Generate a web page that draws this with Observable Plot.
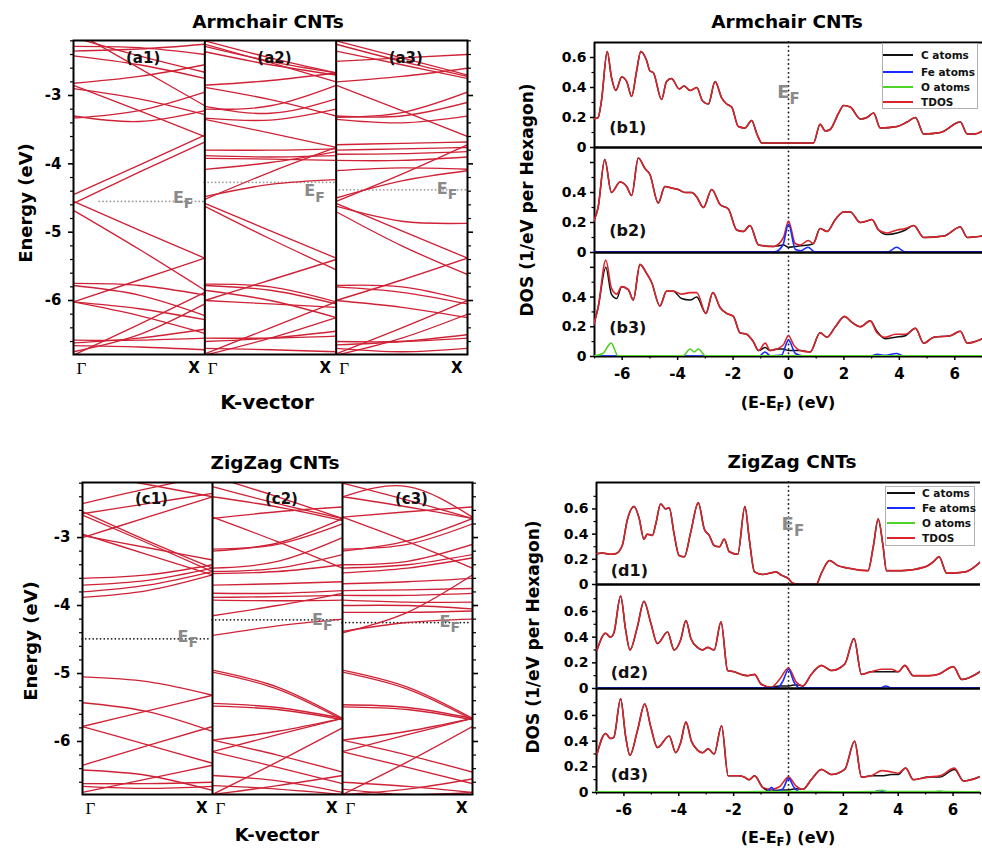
<!DOCTYPE html>
<html><head><meta charset="utf-8">
<script src="https://cdn.jsdelivr.net/npm/d3@7"></script>
<script src="https://cdn.jsdelivr.net/npm/@observablehq/plot@0.6"></script>
<style>
html,body{margin:0;padding:0;background:#fff;}
#root{position:relative;width:982px;height:851px;overflow:hidden;font-family:"DejaVu Sans",sans-serif;font-weight:bold;color:#000;}
.lbl{position:absolute;white-space:nowrap;font-weight:bold;line-height:1;}
.lbl sub{font-size:0.72em;vertical-align:-0.3em;line-height:0;}
</style></head><body><div id="root"></div><script>
// ---------------- DATA ----------------
const kPoints = [0, 0.5, 1];          // Γ, midpoint, X (fraction of the k path)
const kLabels = ["Γ", "X"];
const panelsA = ["(a1)", "(a2)", "(a3)"];
const panelsC = ["(c1)", "(c2)", "(c3)"];
const panelsB = ["(b1)", "(b2)", "(b3)"];
const panelsD = ["(d1)", "(d2)", "(d3)"];
const energyTicks = [-6, -5, -4, -3];
const dosTicksX = [-6, -4, -2, 0, 2, 4, 6];
const legendNames = ["C atoms", "Fe atoms", "O atoms", "TDOS"];
const efA = [-4.55, -4.27, -4.38];
const efC = [-4.49, -4.21, -4.25];

// band energies (eV) at kPoints
const bandsA1 = [[-2.15,-2.42,-2.66],[-2.28,-2.30,-2.40],[-2.35,-2.32,-2.25],[-2.05,-2.60,-3.15],[-2.42,-2.55,-2.75],
 [-2.85,-3.22,-3.60],[-2.82,-2.72,-2.55],[-3.30,-3.38,-3.22],[-3.33,-3.22,-2.95],[-2.90,-3.05,-3.28],
 [-4.45,-4.02,-3.58],[-4.58,-4.12,-3.68],[-4.55,-4.97,-5.38],[-4.68,-5.25,-5.85],[-6.02,-5.70,-5.38],
 [-5.75,-5.78,-5.92],[-5.78,-5.92,-6.22],[-6.02,-6.12,-6.28],[-6.80,-6.35,-5.88],[-6.75,-6.50,-6.05],
 [-6.58,-6.58,-6.55],[-6.62,-6.55,-6.42],[-6.66,-6.68,-6.72],[-6.02,-6.22,-6.48]];
const bandsA2 = [[-2.20,-2.45,-2.67],[-2.28,-2.50,-2.67],[-2.36,-2.55,-2.70],[-2.25,-2.52,-2.80],[-2.85,-2.78,-2.67],
 [-2.88,-3.06,-3.30],[-3.16,-3.26,-3.05],[-3.20,-3.15,-2.85],[-3.33,-3.36,-3.20],[-3.35,-3.55,-3.76],
 [-3.80,-3.80,-3.78],[-3.88,-3.90,-3.88],[-3.92,-3.93,-3.95],[-4.08,-3.98,-3.82],[-4.52,-4.12,-3.76],
 [-4.48,-4.30,-4.23],[-4.58,-4.98,-5.38],[-4.62,-5.10,-5.55],[-6.00,-5.70,-5.40],[-5.76,-5.80,-6.02],
 [-5.78,-5.85,-6.05],[-5.85,-6.00,-6.25],[-6.00,-6.05,-6.10],[-6.78,-6.40,-6.02],[-6.80,-6.55,-6.25],
 [-6.55,-6.55,-6.52],[-6.60,-6.55,-6.45],[-6.70,-6.72,-6.75]];
const bandsA3 = [[-2.20,-2.45,-2.70],[-2.25,-2.50,-2.72],[-2.35,-2.55,-2.75],[-2.50,-2.45,-2.40],[-2.80,-2.72,-2.60],
 [-2.85,-3.22,-3.60],[-3.30,-3.30,-3.10],[-3.32,-3.25,-2.95],[-3.35,-3.40,-3.30],[-3.72,-3.70,-3.68],
 [-3.80,-3.78,-3.76],[-3.86,-3.85,-3.82],[-3.95,-3.95,-3.90],[-4.10,-4.06,-4.08],[-4.55,-4.15,-3.72],
 [-4.50,-4.25,-4.10],[-4.58,-4.98,-5.38],[-4.70,-5.20,-5.62],[-4.62,-4.84,-4.87],[-6.00,-5.70,-5.38],
 [-5.78,-5.80,-6.00],[-5.80,-5.88,-6.05],[-6.00,-6.10,-6.25],[-6.78,-6.40,-6.00],[-6.80,-6.55,-6.20],
 [-6.60,-6.60,-6.55],[-6.65,-6.60,-6.50],[-6.70,-6.75,-6.70]];
const bandsC1 = [[-2.50,-2.28,-2.08],[-2.65,-2.50,-2.35],[-2.05,-2.22,-2.40],[-2.62,-3.05,-3.45],[-2.67,-3.08,-3.50],
 [-2.95,-3.25,-3.55],[-3.00,-2.70,-2.40],[-2.97,-3.15,-3.33],[-3.60,-3.55,-3.40],[-3.70,-3.63,-3.45],
 [-3.80,-3.70,-3.50],[-3.88,-3.78,-3.55],[-5.05,-5.12,-5.32],[-5.43,-5.56,-5.85],[-5.78,-5.55,-5.32],
 [-5.78,-6.05,-6.32],[-6.35,-6.06,-5.78],[-6.42,-6.50,-6.72],[-6.75,-6.55,-6.35],[-6.62,-6.62,-6.60],
 [-6.66,-6.69,-6.66]];
const bandsC2 = [[-2.25,-2.50,-2.72],[-2.40,-2.55,-2.75],[-2.10,-2.40,-2.72],[-2.72,-2.62,-2.55],[-3.17,-3.10,-2.80],
 [-3.20,-3.08,-2.72],[-2.70,-3.06,-3.45],[-3.45,-3.35,-3.00],[-3.50,-3.45,-3.25],[-3.53,-3.50,-3.40],
 [-3.70,-3.68,-3.65],[-3.82,-3.82,-3.78],[-3.88,-3.87,-3.85],[-3.92,-3.93,-3.92],[-4.15,-4.00,-3.82],
 [-4.44,-4.30,-4.20],[-4.95,-5.20,-5.66],[-4.98,-5.23,-5.68],[-5.44,-5.50,-5.66],[-5.48,-5.53,-5.68],
 [-5.98,-5.85,-5.66],[-6.15,-5.90,-5.66],[-5.98,-6.20,-6.45],[-6.15,-6.38,-6.62],[-6.78,-6.30,-5.80],
 [-6.50,-6.58,-6.75],[-6.65,-6.70,-6.78],[-6.78,-6.65,-6.50]];
const bandsC3 = [[-2.20,-2.45,-2.72],[-2.40,-2.55,-2.72],[-2.40,-2.25,-2.70],[-2.70,-2.62,-2.55],[-3.17,-3.10,-2.80],
 [-3.20,-3.05,-2.72],[-2.70,-3.06,-3.45],[-3.40,-3.35,-3.10],[-3.45,-3.40,-3.25],[-3.52,-3.45,-3.30],
 [-3.68,-3.65,-3.60],[-3.78,-3.77,-3.75],[-3.85,-3.85,-3.82],[-3.92,-3.95,-3.95],[-4.00,-4.00,-4.05],
 [-4.10,-4.10,-4.08],[-4.40,-4.10,-3.55],[-4.38,-4.25,-4.20],[-4.95,-5.20,-5.66],[-4.98,-5.23,-5.68],
 [-5.46,-5.50,-5.66],[-5.49,-5.53,-5.68],[-5.98,-5.85,-5.66],[-6.15,-5.90,-5.66],[-5.98,-6.20,-6.45],
 [-6.15,-6.38,-6.62],[-6.78,-6.30,-5.78],[-6.60,-6.66,-6.75],[-6.70,-6.78,-6.75],[-6.78,-6.70,-6.55]];

// DOS (1/eV per hexagon) vs E-EF (eV)
const b1E = [-7.05,-6.87,-6.75,-6.54,-6.39,-6.23,-6.02,-5.84,-5.66,-5.48,-5.33,-5.12,-5.0,-4.88,-4.58,-4.4,-4.22,-3.94,-3.77,-3.55,-3.31,-3.1,-2.89,-2.65,-2.41,-2.23,-2.05,-1.81,-1.57,-1.33,-1.14,-0.96,0.9,1.14,1.33,1.5,1.81,1.99,2.23,2.59,2.83,3.07,3.31,3.92,4.28,4.58,4.88,5.48,6.2,6.45,6.7,7.0];
const b1T = [0.19,0.2,0.31,0.64,0.47,0.38,0.47,0.44,0.34,0.51,0.64,0.58,0.51,0.5,0.32,0.44,0.46,0.39,0.41,0.38,0.40,0.31,0.29,0.44,0.33,0.29,0.27,0.14,0.13,0.18,0.09,0.03,0.03,0.155,0.11,0.12,0.23,0.28,0.27,0.19,0.2,0.23,0.13,0.14,0.17,0.2,0.09,0.1,0.17,0.09,0.09,0.11];
const b1C = [0.19,0.2,0.31,0.64,0.47,0.38,0.47,0.44,0.34,0.51,0.64,0.58,0.51,0.5,0.32,0.44,0.46,0.39,0.41,0.38,0.40,0.31,0.29,0.44,0.33,0.29,0.27,0.14,0.13,0.18,0.09,0.03,0.03,0.155,0.11,0.12,0.23,0.28,0.27,0.19,0.2,0.23,0.13,0.14,0.17,0.2,0.09,0.1,0.17,0.09,0.09,0.11];

const b2E = [-7.05,-6.87,-6.63,-6.39,-6.08,-5.84,-5.66,-5.42,-5.18,-5.0,-4.7,-4.46,-4.22,-3.98,-3.73,-3.49,-3.31,-3.07,-2.77,-2.47,-2.17,-1.87,-1.63,-1.39,-1.08,-0.54,-0.18,0,0.24,0.42,0.72,0.9,1.14,1.39,1.69,1.99,2.23,2.59,2.83,3.01,3.25,3.55,3.92,4.22,4.52,4.88,5.6,6.2,6.45,7.0];
const b2T = [0.2,0.3,0.62,0.4,0.47,0.44,0.38,0.63,0.56,0.52,0.33,0.44,0.43,0.42,0.40,0.40,0.37,0.3,0.42,0.32,0.29,0.15,0.14,0.18,0.05,0.04,0.1,0.21,0.06,0.05,0.08,0.06,0.16,0.14,0.22,0.27,0.27,0.2,0.21,0.22,0.15,0.13,0.15,0.16,0.18,0.1,0.11,0.17,0.1,0.11];
const b2C = [0.2,0.3,0.62,0.4,0.47,0.44,0.38,0.63,0.56,0.52,0.33,0.44,0.43,0.42,0.40,0.40,0.37,0.3,0.42,0.32,0.29,0.15,0.14,0.18,0.05,0.04,0.05,0.035,0.04,0.045,0.05,0.06,0.16,0.14,0.22,0.27,0.27,0.2,0.21,0.22,0.15,0.12,0.13,0.15,0.18,0.1,0.11,0.17,0.1,0.11];
const b2FeE = [-7,-0.5,-0.2,0,0.25,0.45,0.7,0.95,3.6,3.9,4.2,7];
const b2Fe = [0.005,0.005,0.05,0.19,0.02,0.012,0.035,0.005,0.005,0.035,0.005,0.005];

const b3E = [-7.05,-6.87,-6.59,-6.39,-6.2,-6.02,-5.78,-5.6,-5.36,-5.12,-4.94,-4.64,-4.4,-4.16,-3.86,-3.55,-3.31,-2.98,-2.73,-2.47,-2.23,-1.99,-1.75,-1.51,-1.27,-1.08,-0.84,-0.66,-0.42,-0.18,0,0.18,0.42,0.78,1.14,1.39,1.69,2.02,2.29,2.59,2.95,3.19,3.49,3.86,4.22,4.58,4.88,5.24,5.84,6.2,6.45,7.0];
const b3T = [0.2,0.33,0.65,0.46,0.42,0.47,0.45,0.38,0.62,0.56,0.5,0.34,0.44,0.44,0.42,0.43,0.43,0.29,0.43,0.33,0.29,0.27,0.16,0.15,0.1,0.04,0.09,0.04,0.05,0.08,0.14,0.08,0.04,0.03,0.16,0.13,0.2,0.27,0.23,0.2,0.24,0.16,0.13,0.15,0.15,0.19,0.09,0.13,0.14,0.17,0.09,0.12];
const b3C = [0.2,0.33,0.6,0.42,0.39,0.47,0.45,0.38,0.62,0.56,0.5,0.34,0.44,0.44,0.39,0.38,0.4,0.29,0.43,0.33,0.29,0.27,0.16,0.15,0.1,0.04,0.06,0.04,0.05,0.05,0.04,0.04,0.04,0.03,0.16,0.13,0.2,0.27,0.23,0.2,0.24,0.17,0.12,0.13,0.14,0.19,0.09,0.13,0.14,0.17,0.09,0.12];
const b3FeE = [-7,-1.05,-0.85,-0.65,-0.25,0,0.25,0.5,3.0,3.2,3.45,3.9,4.15,7];
const b3Fe = [0.003,0.003,0.03,0.005,0.01,0.11,0.02,0.005,0.005,0.015,0.008,0.02,0.004,0.003];
const b3OE = [-7,-6.7,-6.4,-6.15,-3.8,-3.55,-3.4,-3.25,-3.0,7];
const b3O = [0.005,0.02,0.09,0.005,0.005,0.05,0.03,0.05,0.005,0.005];

const d1E = [-6.98,-6.79,-6.49,-6.3,-6.06,-5.88,-5.63,-5.45,-5.27,-5.15,-4.96,-4.84,-4.66,-4.48,-4.35,-4.17,-3.99,-3.8,-3.56,-3.29,-3.07,-2.89,-2.71,-2.52,-2.34,-2.16,-1.85,-1.59,-1.43,-1.24,-0.94,-0.7,-0.45,-0.27,-0.02,0.16,0.46,1.01,1.2,1.5,1.8,2.17,2.9,3.09,3.27,3.45,3.57,4.12,4.98,5.28,5.49,5.77,6.44,7.05];
const d1T = [0.245,0.25,0.24,0.245,0.31,0.51,0.62,0.53,0.36,0.4,0.39,0.48,0.64,0.6,0.61,0.4,0.23,0.22,0.42,0.65,0.44,0.39,0.31,0.3,0.36,0.26,0.24,0.62,0.36,0.1,0.08,0.09,0.1,0.075,0.05,0.01,0.0,0.0,0.09,0.19,0.15,0.13,0.11,0.3,0.52,0.3,0.11,0.11,0.14,0.18,0.22,0.09,0.1,0.19];
const d1C = [0.245,0.25,0.24,0.245,0.31,0.51,0.62,0.53,0.36,0.4,0.39,0.48,0.64,0.6,0.61,0.4,0.23,0.22,0.42,0.65,0.44,0.39,0.31,0.3,0.36,0.26,0.24,0.62,0.36,0.1,0.08,0.09,0.1,0.075,0.05,0.01,0.0,0.0,0.09,0.19,0.15,0.13,0.11,0.3,0.52,0.3,0.11,0.11,0.14,0.18,0.22,0.09,0.1,0.19];

const d2E = [-6.98,-6.67,-6.49,-6.37,-6.12,-5.94,-5.78,-5.51,-5.27,-5.02,-4.78,-4.41,-4.17,-3.93,-3.74,-3.56,-3.32,-3.13,-2.95,-2.71,-2.46,-2.22,-1.98,-1.73,-1.49,-1.24,-1.0,-0.63,-0.33,0,0.28,0.52,0.83,1.2,1.56,2.05,2.39,2.66,3.02,3.39,3.76,4.0,4.24,4.55,5.1,5.46,6.01,6.32,7.05];
const d2T = [0.3,0.43,0.4,0.43,0.72,0.46,0.3,0.48,0.68,0.51,0.35,0.44,0.3,0.38,0.53,0.39,0.32,0.3,0.32,0.3,0.52,0.14,0.13,0.11,0.1,0.11,0.035,0.01,0.07,0.16,0.05,0.02,0.11,0.18,0.14,0.19,0.39,0.11,0.13,0.15,0.15,0.13,0.18,0.1,0.1,0.11,0.17,0.07,0.14];
const d2C = [0.3,0.43,0.4,0.43,0.72,0.46,0.3,0.48,0.68,0.51,0.35,0.44,0.3,0.38,0.53,0.39,0.32,0.3,0.32,0.3,0.52,0.14,0.13,0.11,0.1,0.11,0.035,0.01,0.02,0.02,0.03,0.02,0.11,0.18,0.14,0.19,0.39,0.11,0.13,0.13,0.13,0.13,0.18,0.1,0.1,0.11,0.17,0.07,0.14];
const d2FeE = [-7,-0.4,-0.2,0,0.2,0.4,3.35,3.55,3.75,7];
const d2Fe = [0.005,0.005,0.06,0.15,0.05,0.005,0.005,0.02,0.005,0.005];

const d3E = [-6.98,-6.67,-6.49,-6.37,-6.12,-5.94,-5.78,-5.51,-5.24,-5.02,-4.78,-4.35,-4.11,-3.93,-3.74,-3.54,-3.32,-3.13,-2.93,-2.71,-2.44,-2.2,-1.85,-1.61,-1.43,-1.24,-0.94,-0.63,-0.33,0,0.28,0.52,0.83,1.2,1.56,2.05,2.41,2.66,3.02,3.39,3.76,4.0,4.27,4.55,5.1,5.52,6.05,6.38,7.05];
const d3T = [0.3,0.46,0.42,0.43,0.73,0.44,0.29,0.48,0.69,0.51,0.35,0.44,0.31,0.39,0.55,0.4,0.33,0.31,0.34,0.3,0.52,0.13,0.13,0.12,0.1,0.13,0.04,0.025,0.045,0.12,0.05,0.025,0.1,0.18,0.14,0.18,0.4,0.12,0.13,0.17,0.16,0.15,0.19,0.1,0.12,0.13,0.19,0.09,0.13];
const d3C = [0.3,0.46,0.42,0.43,0.73,0.44,0.29,0.48,0.69,0.51,0.35,0.44,0.31,0.39,0.55,0.4,0.33,0.31,0.34,0.3,0.52,0.13,0.13,0.12,0.1,0.13,0.04,0.01,0.02,0.02,0.03,0.025,0.1,0.18,0.14,0.18,0.4,0.12,0.13,0.13,0.14,0.14,0.19,0.1,0.12,0.12,0.18,0.09,0.13];
const d3FeE = [-7,-0.8,-0.62,-0.45,-0.2,0,0.2,0.4,3.1,3.3,3.5,7];
const d3Fe = [0.003,0.003,0.04,0.005,0.03,0.11,0.04,0.005,0.005,0.015,0.004,0.003];
const d3OE = [-7,-2,0,2,3.2,3.4,3.6,5.3,5.5,5.7,7];
const d3O = [0.006,0.006,0.008,0.006,0.008,0.018,0.008,0.008,0.012,0.008,0.006];

// ---------------- DRAWING ----------------
const root = document.getElementById("root");
const FONT = "DejaVu Sans, sans-serif";
const bandColor = "#cf2236";
const col = {C: "#111111", Fe: "#1a2bff", O: "#4fd12a", T: "#d9242c"};
const legendColors = [col.C, col.Fe, col.O, col.T];
const baseStyle = {background: "transparent", overflow: "visible", fontFamily: FONT, fontWeight: "bold", fontSize: "14px", color: "#000"};

function place(el, left, top) {
  el.style.position = "absolute";
  el.style.left = left + "px";
  el.style.top = top + "px";
  el.style.maxWidth = "none";
  root.appendChild(el);
}
function addLabel(html, x, y, size, rotate, family, weight) {
  const d = document.createElement("div");
  d.className = "lbl";
  d.innerHTML = html;
  d.style.left = x + "px";
  d.style.top = y + "px";
  d.style.fontSize = size + "px";
  if (family) d.style.fontFamily = family;
  if (weight) d.style.fontWeight = weight;
  d.style.transform = "translate(-50%,-50%)" + (rotate ? " rotate(-90deg)" : "");
  root.appendChild(d);
}

function bandChart(c) {
  const mL = 50, mR = 12, mT = 2, mB = 28;
  const W = c.right - c.left, H = c.bottom - c.top;
  const [y0, y1] = c.yDomain;
  const pxPerE = H / (y1 - y0);
  const rows = [];
  c.bands.forEach((set, i) => set.forEach((b, j) => b.forEach((e, m) =>
    rows.push({x: i + kPoints[m], y: e, id: i * 100 + j}))));
  const efRows = c.ef.map((e, i) => ({x1: i + c.efStart[i], x2: i + 0.99, y: e,
    xl: i + c.efLabelK[i], yl: e - c.efDy[i] / pxPerE}));
  const nameRows = c.names.map((t, i) => ({x: i + 0.53, y: c.nameE, t}));
  const gRows = [0, 1, 2].map(i => ({x: i, y: y0, t: kLabels[0]}));
  const xRows = [0, 1, 2].map(i => ({x: i + 1, y: y0, t: kLabels[1]}));
  const minor = d3.range(-68, -21, 2).map(v => v / 10).filter(v => v >= y0 && v <= y1 && !energyTicks.includes(v));
  const svg = Plot.plot({
    width: W + mL + mR, height: H + mT + mB,
    marginLeft: mL, marginRight: mR, marginTop: mT, marginBottom: mB,
    x: {domain: [0, 3], axis: null},
    y: {domain: c.yDomain, axis: null},
    style: baseStyle,
    marks: [
      Plot.ruleY(efRows, {x1: "x1", x2: "x2", y: "y", stroke: c.efColor, strokeWidth: 1.7, strokeDasharray: "0.1,3.6", strokeLinecap: "round"}),
      Plot.line(rows, {x: "x", y: "y", z: "id", curve: "natural", stroke: bandColor, strokeWidth: 1.35, clip: true}),
      Plot.text(efRows, {x: "xl", y: "yl", text: () => "E", textAnchor: "end", fill: "#8a8a8a", fontSize: 16, fontWeight: "bold"}),
      Plot.text(efRows, {x: "xl", y: "yl", text: () => "F", textAnchor: "start", dy: 6, fill: "#8a8a8a", fontSize: 14, fontWeight: "bold"}),
      Plot.text(nameRows, {x: "x", y: "y", text: "t", fontSize: 15, fontWeight: "bold", fill: "#111"}),
      Plot.ruleX([1, 2], {stroke: "#000", strokeWidth: 2}),
      Plot.frame({stroke: "#000", strokeWidth: 2}),
      Plot.axisY({ticks: energyTicks, tickSize: 5, tickPadding: 7, fontSize: 15, fontWeight: "bold", tickFormat: d => String(d), strokeWidth: 1.6, label: null}),
      Plot.axisY({ticks: minor, tickSize: 3, tickFormat: () => "", strokeWidth: 1.2, label: null}),
      Plot.axisY({anchor: "right", ticks: energyTicks, tickSize: 5, tickFormat: () => "", strokeWidth: 1.6, label: null}),
      Plot.axisY({anchor: "right", ticks: minor, tickSize: 3, tickFormat: () => "", strokeWidth: 1.2, label: null}),
      Plot.text(gRows, {x: "x", y: "y", text: "t", dx: 3, dy: 14, textAnchor: "start", fontFamily: "Liberation Serif, serif", fontWeight: "normal", fontSize: 17}),
      Plot.text(xRows, {x: "x", y: "y", text: "t", dx: -5, dy: 14, textAnchor: "end", fontSize: 15, fontWeight: "bold"})
    ]
  });
  place(svg, c.left - mL, c.top - mT);
}

function dosPanel(c) {
  const mL = 45, mR = 0, mT = 2, mB = c.xAxis ? 34 : 2;
  const W = c.right - c.left, H = c.bottom - c.top;
  const rowsOf = (E, V) => E.map((e, i) => ({x: e, y: V[i]}));
  const minorX = [-7, -5, -3, -1, 1, 3, 5, 7];
  const fmt = d => d === 0 ? "0" : d3.format(".1f")(d);
  const marks = [
    Plot.ruleY(c.yDomain, {stroke: "#000", strokeWidth: 2}),
    Plot.ruleX([-7], {stroke: "#000", strokeWidth: 2}),
    Plot.ruleX([0], {stroke: "#1a1a1a", strokeWidth: 1.8, strokeDasharray: "0.1,4.3", strokeLinecap: "round"}),
    Plot.line(rowsOf(c.E, c.C), {x: "x", y: "y", stroke: col.C, strokeWidth: 1.5, curve: "monotone-x", clip: true}),
    Plot.line(rowsOf(c.E, c.T), {x: "x", y: "y", stroke: col.T, strokeWidth: 1.6, curve: "monotone-x", clip: true})
  ];
  if (c.FeE) marks.push(Plot.line(rowsOf(c.FeE, c.Fe), {x: "x", y: "y", stroke: col.Fe, strokeWidth: 1.6, curve: "monotone-x", clip: true}));
  if (c.OE) marks.push(Plot.line(rowsOf(c.OE, c.O), {x: "x", y: "y", stroke: col.O, strokeWidth: 1.6, curve: "monotone-x", clip: true}));
  marks.push(Plot.text([{x: -5.8, y: c.nameV, t: c.name}], {x: "x", y: "y", text: "t", fontSize: 16, fontWeight: "bold", fill: "#111"}));
  if (c.efLabel) {
    const r = [{x: c.efLabel[0], y: c.efLabel[1]}];
    marks.push(Plot.text(r, {x: "x", y: "y", text: () => "E", textAnchor: "end", dx: 1, fill: "#8a8a8a", fontSize: 18, fontWeight: "bold"}));
    marks.push(Plot.text(r, {x: "x", y: "y", text: () => "F", textAnchor: "start", dx: 1, dy: 7, fill: "#8a8a8a", fontSize: 15, fontWeight: "bold"}));
  }
  marks.push(Plot.axisY({ticks: c.yLabeled, tickSize: 4, tickPadding: 4, fontSize: 14, fontWeight: "bold", tickFormat: fmt, strokeWidth: 1.5, label: null}));
  if (c.yExtra.length) marks.push(Plot.axisY({ticks: c.yExtra, tickSize: 4, tickFormat: () => "", strokeWidth: 1.5, label: null}));
  marks.push(Plot.axisY({ticks: c.yMinor, tickSize: 2.5, tickFormat: () => "", strokeWidth: 1.2, label: null}));
  if (c.xAxis) {
    marks.push(Plot.axisX({ticks: dosTicksX, tickSize: 4, tickPadding: 8, fontSize: 15, fontWeight: "bold", tickFormat: d => String(d), strokeWidth: 1.5, label: null}));
    marks.push(Plot.axisX({ticks: minorX, tickSize: 2.5, tickFormat: () => "", strokeWidth: 1.2, label: null}));
  }
  const svg = Plot.plot({
    width: W + mL + mR, height: H + mT + mB,
    marginLeft: mL, marginRight: mR, marginTop: mT, marginBottom: mB,
    x: {domain: [-7, 7], axis: null},
    y: {domain: c.yDomain, axis: null},
    style: baseStyle,
    marks
  });
  place(svg, c.left - mL, c.top - mT);
}

function legend(x, y, w, h, rowsY, lx1, lx2, tx) {
  const box = document.createElement("div");
  box.style.cssText = `position:absolute;left:${x}px;top:${y}px;width:${w}px;height:${h}px;border:1px solid #b0b0b0;background:#fff;box-sizing:border-box;`;
  root.appendChild(box);
  legendNames.forEach((n, i) => {
    const l = document.createElement("div");
    l.style.cssText = `position:absolute;left:${lx1}px;top:${rowsY[i] - 1}px;width:${lx2 - lx1}px;height:2px;background:${legendColors[i]};`;
    root.appendChild(l);
    const t = document.createElement("div");
    t.className = "lbl";
    t.textContent = n;
    t.style.cssText += `left:${tx}px;top:${rowsY[i]}px;font-size:10.5px;transform:translateY(-50%);color:#111;`;
    root.appendChild(t);
  });
}

// Band structures
bandChart({left: 73, right: 467, top: 40, bottom: 354, yDomain: [-6.79, -2.195],
  bands: [bandsA1, bandsA2, bandsA3], ef: efA, efStart: [0.2, 0, 0], efColor: "#9a9a9a",
  efLabelK: [0.84, 0.84, 0.85], efDy: [-4, 9, -1], names: panelsA, nameE: -2.46});
bandChart({left: 82, right: 472, top: 482, bottom: 794, yDomain: [-6.78, -2.19],
  bands: [bandsC1, bandsC2, bandsC3], ef: efC, efStart: [0, 0, 0], efColor: "#222",
  efLabelK: [0.815, 0.85, 0.83], efDy: [-2, 0, -1], names: panelsC, nameE: -2.43});

// DOS panels (armchair)
const bDom = [0, 0.7];
dosPanel({left: 594, right: 982, top: 42, bottom: 147, yDomain: bDom, E: b1E, T: b1T, C: b1C,
  name: panelsB[0], nameV: 0.133, efLabel: [0, 0.37], yLabeled: [0, 0.2, 0.4, 0.6], yExtra: [], yMinor: [0.1, 0.3, 0.5]});
dosPanel({left: 594, right: 982, top: 147, bottom: 252, yDomain: bDom, E: b2E, T: b2T, C: b2C, FeE: b2FeE, Fe: b2Fe,
  name: panelsB[1], nameV: 0.147, yLabeled: [0, 0.2, 0.4], yExtra: [0.6], yMinor: [0.1, 0.3, 0.5]});
dosPanel({left: 594, right: 982, top: 252, bottom: 356, yDomain: bDom, E: b3E, T: b3T, C: b3C, FeE: b3FeE, Fe: b3Fe, OE: b3OE, O: b3O,
  name: panelsB[2], nameV: 0.193, yLabeled: [0, 0.2, 0.4], yExtra: [0.6], yMinor: [0.1, 0.3, 0.5], xAxis: true});

// DOS panels (zigzag)
const dDom = [0, 0.81];
dosPanel({left: 595.6, right: 979.6, top: 482, bottom: 584, yDomain: dDom, E: d1E, T: d1T, C: d1C,
  name: panelsD[0], nameV: 0.11, efLabel: [0.16, 0.48], yLabeled: [0, 0.2, 0.4, 0.6], yExtra: [], yMinor: [0.1, 0.3, 0.5, 0.7]});
dosPanel({left: 595.6, right: 979.6, top: 584, bottom: 688, yDomain: dDom, E: d2E, T: d2T, C: d2C, FeE: d2FeE, Fe: d2Fe,
  name: panelsD[1], nameV: 0.118, yLabeled: [0, 0.2, 0.4, 0.6], yExtra: [], yMinor: [0.1, 0.3, 0.5, 0.7]});
dosPanel({left: 595.6, right: 979.6, top: 688, bottom: 792, yDomain: dDom, E: d3E, T: d3T, C: d3C, FeE: d3FeE, Fe: d3Fe, OE: d3OE, O: d3O,
  name: panelsD[2], nameV: 0.134, yLabeled: [0, 0.2, 0.4, 0.6], yExtra: [], yMinor: [0.1, 0.3, 0.5, 0.7], xAxis: true});

// Legends
legend(882, 43, 96, 66, [55, 72, 87, 102], 883, 913, 921);
legend(885, 486, 90, 60, [493, 508, 523, 538], 887, 915, 922);

// Titles and axis labels
addLabel("Armchair CNTs", 268, 22, 18.5);
addLabel("Armchair CNTs", 787, 22, 18.5);
addLabel("ZigZag CNTs", 275, 463, 18.5);
addLabel("ZigZag CNTs", 792, 462, 18.5);
addLabel("Energy (eV)", 26, 203, 18, true);
addLabel("Energy (eV)", 31, 641, 18, true);
addLabel("DOS (1/eV per Hexagon)", 527, 200, 17, true);
addLabel("DOS (1/eV per Hexagon)", 533, 637, 17, true);
addLabel("K-vector", 267, 402, 20);
addLabel("K-vector", 277, 835, 18);
addLabel("(E-E<sub>F</sub>) (eV)", 788, 403, 16);
addLabel("(E-E<sub>F</sub>) (eV)", 788, 838, 16);
</script></body></html>
